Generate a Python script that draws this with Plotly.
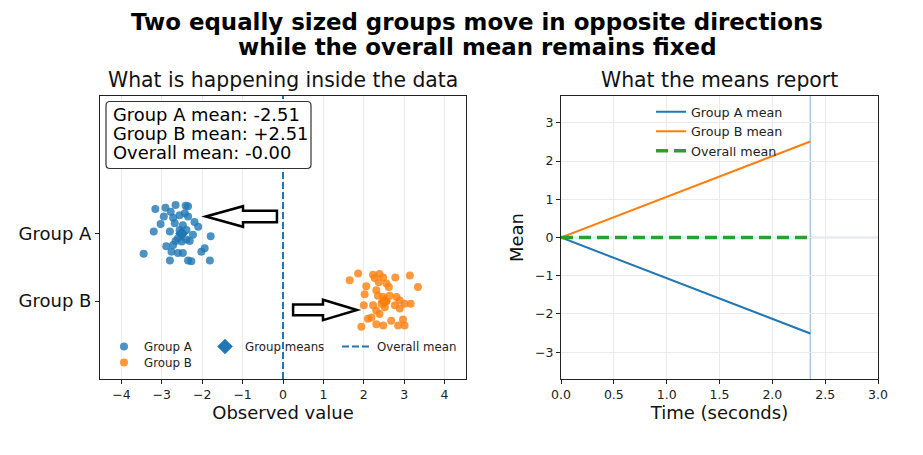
import plotly.graph_objects as go

# ---------------- data ----------------
group_a_x = [-3.16, -2.91, -2.66, -2.41, -2.35, -2.78, -2.95, -2.56, -2.43, -2.35,
             -2.72, -2.19, -3.03, -2.10, -3.20, -2.80, -2.56, -2.39, -2.23, -2.60,
             -2.39, -1.79, -2.89, -2.72, -2.51, -2.76, -2.60, -2.48, -2.02, -1.94,
             -3.45, -2.80, -2.35, -2.27, -1.81, -2.68, -2.51, -2.31, -2.66, -2.48]
group_a_y = [1.36, 1.38, 1.42, 1.41, 1.40, 1.32, 1.25, 1.27, 1.30, 1.25,
             1.23, 1.17, 1.14, 1.10, 1.03, 1.03, 1.05, 1.05, 0.98, 0.93,
             0.91, 0.96, 0.81, 0.83, 0.88, 0.73, 0.71, 0.71, 0.73, 0.78,
             0.70, 0.60, 0.60, 0.59, 0.60, 1.15, 0.98, 0.89, 0.89, 1.12]
group_b_x = [1.86, 1.65, 2.23, 2.39, 2.48, 2.78, 3.14, 2.06, 2.56, 2.62,
             3.34, 2.02, 2.31, 2.35, 2.48, 2.81, 2.00, 2.44, 2.56, 2.77,
             3.01, 3.16, 2.31, 2.89, 2.19, 2.10, 2.31, 2.48, 2.68, 2.97,
             2.85, 3.01, 1.94, 2.39, 2.23, 2.64, 2.37, 2.27, 2.89, 2.52]
group_b_y = [0.41, 0.31, 0.39, 0.40, 0.35, 0.35, 0.38, 0.22, 0.26, 0.21,
             0.21, 0.10, 0.16, 0.08, 0.06, 0.06, -0.06, -0.04, 0.00, -0.06,
             -0.04, -0.04, -0.14, -0.11, -0.24, -0.26, -0.34, -0.36, -0.29, -0.27,
             -0.36, -0.36, -0.38, -0.19, -0.06, 0.08, 0.28, 0.34, 0.01, -0.09]

group_labels = ["Group A", "Group B"]
group_rows = [1, 0]
group_means = [-2.51, 2.51]
overall_mean = 0.0
overall_label = "-0.00"

time_s = [0.0, 0.5, 1.0, 1.5, 2.0, 2.36]
mean_a_t = [0.0, -0.53, -1.06, -1.60, -2.13, -2.51]
mean_b_t = [0.0, 0.53, 1.06, 1.60, 2.13, 2.51]
mean_all_t = [0.0, 0.0, 0.0, 0.0, 0.0, 0.0]
current_time = 2.36

left_xticks = [-4, -3, -2, -1, 0, 1, 2, 3, 4]
right_xticks = [0.0, 0.5, 1.0, 1.5, 2.0, 2.5, 3.0]
right_yticks = [-3, -2, -1, 0, 1, 2, 3]

stats_lines = [f"Group A mean: {group_means[0]:.2f}",
               f"Group B mean: {group_means[1]:+.2f}",
               f"Overall mean: {overall_label}"]
title_lines = ["Two equally sized groups move in opposite directions",
               "while the overall mean remains fixed"]

# arrows: (tail_x, tip_x, y, shaft_half, head_half, head_len)
arrow_a = (-0.15, -1.91, 1.25, 0.086, 0.152, 0.92)
arrow_b = (0.25, 1.83, -0.13, 0.080, 0.150, 0.84)

# ---------------- style ----------------
BLUE = "#1f77b4"
ORANGE = "#ff7f0e"
GREEN = "#2ca02c"
FONT = "DejaVu Sans"
W, H = 923, 455
OFF = 8  # page body margin
LX0, LX1, PY0, PY1 = 100, 466, 96, 379
RX0, RX1 = 561, 878
LEFT_XR = [-4.53, 4.53]
LEFT_YR = [-1.15, 3.03]
RIGHT_XR = [0.0, 3.0]
RIGHT_YR = [-3.7, 3.7]

def px(x):
    return (x - OFF) / W

def py(y):
    return 1 - (y - OFF) / H

fig = go.Figure()

fig.add_trace(go.Scatter(
    x=group_means, y=group_rows, mode="markers",
    marker=dict(symbol="diamond", size=10, color=[BLUE, ORANGE]),
    name="Group means", legend="legend3", xaxis="x", yaxis="y", showlegend=True))

fig.add_trace(go.Scatter(
    x=group_a_x, y=group_a_y, mode="markers", name=group_labels[0],
    marker=dict(size=8, color=BLUE, opacity=0.8, line=dict(width=0)),
    legend="legend2", xaxis="x", yaxis="y"))
fig.add_trace(go.Scatter(
    x=group_b_x, y=group_b_y, mode="markers", name=group_labels[1],
    marker=dict(size=8, color=ORANGE, opacity=0.8, line=dict(width=0)),
    legend="legend5", xaxis="x", yaxis="y"))

fig.add_trace(go.Scatter(
    x=[overall_mean, overall_mean], y=LEFT_YR, mode="lines", name="Overall mean",
    line=dict(color=BLUE, width=2, dash="7px,3px"),
    legend="legend4", xaxis="x", yaxis="y"))

fig.add_trace(go.Scatter(x=time_s, y=mean_a_t, mode="lines", name="Group A mean",
                         line=dict(color=BLUE, width=2), xaxis="x2", yaxis="y2", legend="legend"))
fig.add_trace(go.Scatter(x=time_s, y=mean_b_t, mode="lines", name="Group B mean",
                         line=dict(color=ORANGE, width=2), xaxis="x2", yaxis="y2", legend="legend"))
fig.add_trace(go.Scatter(x=time_s, y=mean_all_t, mode="lines", name="Overall mean",
                         line=dict(color=GREEN, width=3.5, dash="12px,6px"),
                         xaxis="x2", yaxis="y2", legend="legend"))

shapes = []
shapes.append(dict(type="line", xref="x2", yref="y2 domain", x0=current_time, x1=current_time,
                   y0=0, y1=1, line=dict(color="rgba(31,119,180,0.4)", width=1.5), layer="below"))
shapes.append(dict(type="line", xref="x2 domain", yref="y2", x0=0, x1=1, y0=0, y1=0,
                   line=dict(color="rgba(31,119,180,0.4)", width=1.5), layer="below"))

def arrow_path(a):
    tail, tip, yc, sh, hh, hl = a
    d = 1 if tip > tail else -1
    base = tip - d * hl
    pts = [(tip, yc), (base, yc + hh), (base, yc + sh), (tail, yc + sh),
           (tail, yc - sh), (base, yc - sh), (base, yc - hh)]
    return "M " + " L ".join(f"{x},{y}" for x, y in pts) + " Z"

for a in (arrow_a, arrow_b):
    shapes.append(dict(type="path", xref="x", yref="y", path=arrow_path(a),
                       fillcolor="white", line=dict(color="black", width=2.5), layer="above"))

# rounded stats box (pixel layout -> paper)
BX0, BX1, BY0, BY1, R = 106, 311, 101.5, 168.5, 4
def rounded_box(x0, x1, y0, y1, r):
    p = []
    p.append(f"M {px(x0 + r)},{py(y0)}")
    p.append(f"L {px(x1 - r)},{py(y0)}")
    p.append(f"Q {px(x1)},{py(y0)} {px(x1)},{py(y0 + r)}")
    p.append(f"L {px(x1)},{py(y1 - r)}")
    p.append(f"Q {px(x1)},{py(y1)} {px(x1 - r)},{py(y1)}")
    p.append(f"L {px(x0 + r)},{py(y1)}")
    p.append(f"Q {px(x0)},{py(y1)} {px(x0)},{py(y1 - r)}")
    p.append(f"L {px(x0)},{py(y0 + r)}")
    p.append(f"Q {px(x0)},{py(y0)} {px(x0 + r)},{py(y0)}")
    return " ".join(p) + " Z"

shapes.append(dict(type="path", xref="paper", yref="paper", path=rounded_box(BX0, BX1, BY0, BY1, R),
                   fillcolor="white", line=dict(color="#333", width=1.2), layer="above"))

annotations = []
for i, t in enumerate(stats_lines):
    annotations.append(dict(text=t, xref="paper", yref="paper", x=px(111), y=py(114 + 19.3 * i),
                            xanchor="left", yanchor="middle", showarrow=False,
                            font=dict(family=FONT, size=17.9, color="black")))

for i, t in enumerate(title_lines):
    annotations.append(dict(text=f"<b>{t}</b>", xref="paper", yref="paper",
                            x=px(477), y=py(22 + 25 * i), xanchor="center", yanchor="middle",
                            showarrow=False, font=dict(family=FONT, size=22.9, color="black")))
annotations.append(dict(text="What is happening inside the data", xref="paper", yref="paper",
                        x=px((LX0 + LX1) / 2), y=py(80), xanchor="center", yanchor="middle",
                        showarrow=False, font=dict(family=FONT, size=20.4, color="#111")))
annotations.append(dict(text="What the means report", xref="paper", yref="paper",
                        x=px((RX0 + RX1) / 2), y=py(80), xanchor="center", yanchor="middle",
                        showarrow=False, font=dict(family=FONT, size=20.4, color="#111")))

axis_common = dict(showline=True, linecolor="#222", linewidth=1, mirror=True, ticks="outside",
                   ticklen=4, tickcolor="#222", zeroline=False, automargin=False)
tickfont_small = dict(family=FONT, size=12.5, color="#222")
title_font = dict(family=FONT, size=18, color="#111")

legend_common = dict(bgcolor="rgba(0,0,0,0)", borderwidth=0, xanchor="left", yanchor="top",
                     font=dict(family=FONT, size=11.8, color="#222"), orientation="v")

fig.update_layout(
    width=W, height=H, margin=dict(l=0, r=0, t=0, b=0, autoexpand=False),
    paper_bgcolor="white", plot_bgcolor="white",
    font=dict(family=FONT),
    xaxis=dict(domain=[px(LX0), px(LX1)], range=LEFT_XR, tickvals=left_xticks,
               showgrid=True, gridcolor="#ebebeb", gridwidth=1, anchor="y",
               tickfont=tickfont_small,
               title=dict(text="Observed value", font=title_font, standoff=2),
               **axis_common),
    yaxis=dict(domain=[py(PY1), py(PY0)], range=LEFT_YR, tickvals=group_rows, ticktext=group_labels,
               showgrid=False, anchor="x", tickfont=dict(family=FONT, size=18, color="#111"),
               **axis_common),
    xaxis2=dict(domain=[px(RX0), px(RX1)], range=RIGHT_XR, tickvals=right_xticks,
                tickformat=".1f", showgrid=True, gridcolor="#ebebeb", gridwidth=1, anchor="y2",
                tickfont=tickfont_small,
                title=dict(text="Time (seconds)", font=title_font, standoff=2),
                **axis_common),
    yaxis2=dict(domain=[py(PY1), py(PY0)], range=RIGHT_YR, tickvals=right_yticks,
                showgrid=True, gridcolor="#ebebeb", gridwidth=1, anchor="x2",
                tickfont=tickfont_small,
                title=dict(text="Mean", font=title_font, standoff=6),
                **axis_common),
    legend=dict(x=px(651), y=py(97), **{**legend_common, "font": dict(family=FONT, size=12.7, color="#222")}),
    legend2=dict(x=px(104), y=py(332), **legend_common),
    legend5=dict(x=px(104), y=py(348), **legend_common),
    legend3=dict(x=px(205), y=py(332), itemsizing="constant", **legend_common),
    legend4=dict(x=px(337), y=py(332), **legend_common),
    shapes=shapes, annotations=annotations,
)

fig.write_html("out.html")
